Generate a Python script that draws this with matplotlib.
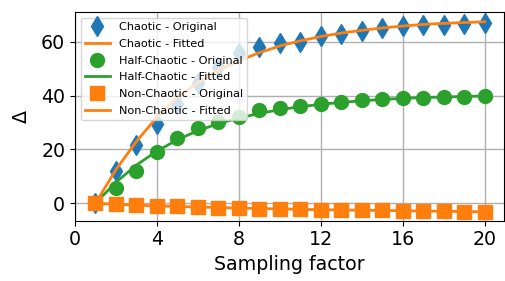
import matplotlib
matplotlib.use("Agg")
import matplotlib.pyplot as plt

x = list(range(1, 21))

chaotic_orig = [0, 12.1, 21.5, 29.3, 37.0, 44.6, 50.8, 55.8, 58.0, 59.7,
                60.1, 62.2, 62.9, 64.2, 65.0, 66.0, 66.3, 66.4, 66.6, 66.9]
chaotic_fit = [0, 12.5, 23.0, 32.0, 39.5, 44.8, 49.5, 53.0, 56.0, 58.5,
               60.4, 62.0, 63.3, 64.3, 65.2, 65.9, 66.5, 66.9, 67.2, 67.5]
half_orig = [0, 5.7, 12.1, 19.2, 24.3, 27.9, 30.3, 32.2, 34.5, 35.5,
             36.0, 37.0, 37.8, 38.4, 38.7, 39.0, 39.1, 39.4, 39.6, 39.9]
half_fit = [0, 7.8, 14.2, 19.4, 23.6, 27.0, 29.6, 31.7, 33.4, 34.8,
            35.9, 36.8, 37.5, 38.1, 38.6, 39.0, 39.3, 39.5, 39.7, 39.9]
non_orig = [0, -0.4, -0.7, -1.0, -1.2, -1.4, -1.6, -1.8, -2.0, -2.1,
            -2.3, -2.4, -2.5, -2.6, -2.7, -2.8, -2.9, -3.0, -3.1, -3.2]
non_fit = [0, -0.4, -0.7, -1.0, -1.2, -1.4, -1.6, -1.8, -2.0, -2.1,
           -2.3, -2.4, -2.5, -2.6, -2.7, -2.8, -2.9, -3.0, -3.1, -3.2]

xticks = [0, 4, 8, 12, 16, 20]
yticks = [0, 20, 40, 60]

fig = plt.figure(figsize=(5.05, 2.81), dpi=100)
ax = fig.add_axes([0.1485, 0.2146, 0.85, 0.7425])

ax.plot(x, chaotic_orig, 'd', color='C0', ms=10, label='Chaotic - Original')
ax.plot(x, chaotic_fit, '-', color='C1', lw=2, label='Chaotic - Fitted')
ax.plot(x, half_orig, 'o', color='C2', ms=10, label='Half-Chaotic - Original')
ax.plot(x, half_fit, '-', color='C2', lw=2, label='Half-Chaotic - Fitted')
ax.plot(x, non_orig, 's', color='C1', ms=10, label='Non-Chaotic - Original')
ax.plot(x, non_fit, '-', color='C1', lw=2, label='Non-Chaotic - Fitted')

ax.set_xlim(0, 20.95)
ax.set_ylim(-6.5, 71.1)
ax.set_xticks(xticks)
ax.set_yticks(yticks)
ax.tick_params(labelsize=13.7)
ax.grid(True, color='#b0b0b0', lw=1)
ax.set_axisbelow(True)
ax.set_xlabel('Sampling factor', fontsize=13.7)
ax.set_ylabel('Δ', fontsize=13.7)
ax.yaxis.set_label_coords(-0.104, 0.5)
ax.legend(loc='upper left', fontsize=8.1, labelspacing=0.6, handlelength=2.2)

fig.savefig('out.png', dpi=100)
